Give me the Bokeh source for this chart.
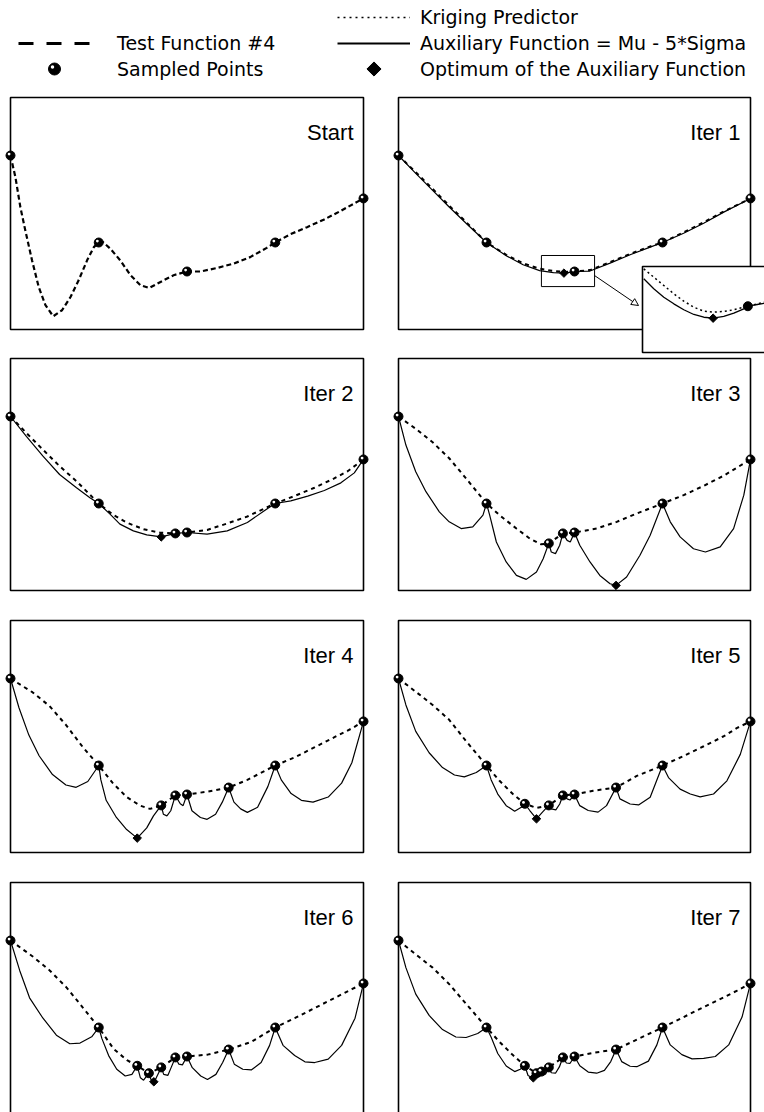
import math
from bokeh.plotting import figure
from bokeh.layouts import column, row
from bokeh.models import Range1d, Label, Legend, LegendItem, Arrow, NormalHead, ColumnDataSource
from bokeh.embed import file_html
from bokeh.resources import INLINE

# ---------------------------------------------------------------- data
panel_titles = ["Start", "Iter 1", "Iter 2", "Iter 3", "Iter 4", "Iter 5", "Iter 6", "Iter 7"]
legend_labels = ["Test Function #4", "Sampled Points", "Kriging Predictor",
                 "Auxiliary Function = Mu - 5*Sigma", "Optimum of the Auxiliary Function"]

# Start: test function #4 and initial samples
test_x = [0, 0.014, 0.028, 0.042, 0.061, 0.080, 0.099, 0.121, 0.146, 0.170, 0.193, 0.217, 0.236, 0.25,
          0.262, 0.283, 0.311, 0.340, 0.368, 0.393, 0.425, 0.462, 0.5, 0.538, 0.585, 0.632, 0.679, 0.726,
          0.75, 0.792, 0.840, 0.887, 0.934, 0.972, 1.0]
test_y = [0.75, 0.656, 0.527, 0.427, 0.298, 0.183, 0.105, 0.057, 0.083, 0.140, 0.212, 0.298, 0.355, 0.375,
          0.377, 0.348, 0.298, 0.234, 0.191, 0.179, 0.205, 0.234, 0.25, 0.250, 0.265, 0.284, 0.312, 0.352,
          0.375, 0.410, 0.441, 0.473, 0.510, 0.542, 0.565]
start_sx = [0, 0.25, 0.5, 0.75, 1.0]
start_sy = [0.75, 0.375, 0.25, 0.375, 0.565]

# Iter 1
iter1_sx = [0, 0.25, 0.5, 0.75, 1.0]
iter1_sy = [0.75, 0.375, 0.25, 0.375, 0.565]
iter1_krig_x = [0, 0.049, 0.097, 0.144, 0.192, 0.25, 0.306, 0.354, 0.401, 0.44, 0.473, 0.5, 0.544, 0.601,
                0.658, 0.715, 0.75, 0.810, 0.867, 0.924, 1.0]
iter1_krig_y = [0.75, 0.678, 0.606, 0.534, 0.463, 0.375, 0.322, 0.285, 0.262, 0.252, 0.248, 0.25, 0.256, 0.290,
                0.326, 0.358, 0.375, 0.419, 0.462, 0.509, 0.565]
iter1_aux_x = iter1_krig_x
iter1_aux_y = [0.75, 0.673, 0.600, 0.528, 0.458, 0.375, 0.318, 0.279, 0.254, 0.245, 0.243, 0.25, 0.252, 0.286,
               0.322, 0.355, 0.375, 0.415, 0.458, 0.506, 0.565]
iter1_opt = (0.47, 0.243)
# Iter 1 magnified view
inset_krig_x = [0.4013, 0.4114, 0.4216, 0.4317, 0.4418, 0.452, 0.4621, 0.4722, 0.4823, 0.4925, 0.5026, 0.5127,
                0.5235, 0.54]
inset_krig_y = [0.2973, 0.2876, 0.2779, 0.2683, 0.2597, 0.2527, 0.248, 0.2469, 0.2477, 0.2497, 0.2527, 0.2555,
                0.2585, 0.2628]
inset_aux_x = [0.4013, 0.4114, 0.4216, 0.4317, 0.4418, 0.452, 0.4621, 0.4715, 0.4823, 0.4925, 0.5026, 0.5067,
               0.5161, 0.5235, 0.54]
inset_aux_y = [0.2857, 0.2741, 0.2643, 0.2566, 0.2497, 0.2442, 0.241, 0.2399, 0.2419, 0.2457, 0.2508, 0.2538,
               0.2558, 0.2573, 0.2616]
inset_sample = (0.5067, 0.2538)
inset_opt = (0.4715, 0.2399)

# Iter 2
iter2_sx = [0, 0.25, 0.467, 0.5, 0.75, 1.0]
iter2_sy = [0.75, 0.375, 0.246, 0.25, 0.375, 0.565]
iter2_krig_x = [0, 0.045, 0.092, 0.139, 0.187, 0.25, 0.291, 0.329, 0.377, 0.424, 0.467, 0.5, 0.557, 0.614,
                0.671, 0.75, 0.804, 0.861, 0.917, 0.955, 1.0]
iter2_krig_y = [0.75, 0.679, 0.607, 0.536, 0.471, 0.375, 0.326, 0.293, 0.264, 0.249, 0.246, 0.25, 0.261, 0.289,
                0.319, 0.375, 0.407, 0.443, 0.483, 0.514, 0.565]
iter2_aux_x = [0, 0.045, 0.092, 0.139, 0.187, 0.225, 0.25, 0.282, 0.31, 0.348, 0.386, 0.427, 0.467, 0.5, 0.557,
               0.614, 0.671, 0.718, 0.75, 0.794, 0.842, 0.889, 0.936, 0.974, 1.0]
iter2_aux_y = [0.75, 0.664, 0.579, 0.5, 0.443, 0.4, 0.375, 0.329, 0.286, 0.257, 0.24, 0.231, 0.246, 0.25, 0.243,
               0.257, 0.293, 0.343, 0.375, 0.386, 0.407, 0.431, 0.464, 0.507, 0.565]
iter2_opt = (0.427, 0.231)

# Iter 3
iter3_sx = [0, 0.25, 0.427, 0.467, 0.5, 0.75, 1.0]
iter3_sy = [0.75, 0.375, 0.203, 0.246, 0.25, 0.375, 0.565]
iter3_krig_x = [0, 0.049, 0.097, 0.144, 0.192, 0.25, 0.287, 0.335, 0.373, 0.405, 0.427, 0.467, 0.5, 0.563,
                0.62, 0.677, 0.75, 0.81, 0.867, 0.924, 1.0]
iter3_krig_y = [0.75, 0.697, 0.639, 0.570, 0.483, 0.375, 0.325, 0.267, 0.224, 0.199, 0.203, 0.246, 0.25, 0.267,
                0.296, 0.332, 0.375, 0.411, 0.451, 0.495, 0.565]
iter3_aux_x = [0, 0.021, 0.049, 0.078, 0.116, 0.144, 0.178, 0.211, 0.24, 0.25,
               0.259, 0.278, 0.306, 0.335, 0.363, 0.392, 0.411, 0.427,
               0.434, 0.446, 0.458, 0.467,
               0.479, 0.488, 0.5,
               0.515, 0.544, 0.572, 0.601, 0.618, 0.648, 0.686, 0.715, 0.75,
               0.772, 0.8, 0.838, 0.872, 0.914, 0.952, 0.981, 1.0]
iter3_aux_y = [0.75, 0.627, 0.512, 0.426, 0.339, 0.296, 0.267, 0.274, 0.325, 0.375,
               0.325, 0.209, 0.123, 0.065, 0.048, 0.08, 0.137, 0.203,
               0.166, 0.159, 0.195, 0.246,
               0.216, 0.209, 0.25,
               0.195, 0.123, 0.065, 0.029, 0.022, 0.058, 0.152, 0.238, 0.375,
               0.296, 0.231, 0.18, 0.166, 0.188, 0.267, 0.411, 0.565]
iter3_opt = (0.618, 0.022)

# Iter 4
iter4_sx = [0, 0.25, 0.427, 0.467, 0.5, 0.618, 0.75, 1.0]
iter4_sy = [0.75, 0.375, 0.203, 0.246, 0.25, 0.28, 0.375, 0.565]
iter4_krig_x = [0, 0.062, 0.11, 0.157, 0.205, 0.25, 0.29, 0.329, 0.367, 0.395, 0.427, 0.467, 0.5, 0.557, 0.618,
                0.671, 0.75, 0.805, 0.862, 0.919, 0.967, 1.0]
iter4_krig_y = [0.75, 0.691, 0.632, 0.55, 0.454, 0.375, 0.299, 0.239, 0.202, 0.188, 0.203, 0.246, 0.25, 0.262,
                0.28, 0.313, 0.375, 0.41, 0.454, 0.498, 0.535, 0.565]
iter4_aux_x = [0, 0.024, 0.052, 0.081, 0.119, 0.157, 0.186, 0.219, 0.25,
               0.256, 0.271, 0.3, 0.329, 0.359, 0.386, 0.405, 0.427,
               0.433, 0.443, 0.454, 0.467,
               0.481, 0.489, 0.5,
               0.514, 0.538, 0.557, 0.581, 0.6, 0.618,
               0.633, 0.652, 0.671, 0.7, 0.729, 0.75,
               0.767, 0.795, 0.824, 0.857, 0.9, 0.938, 0.967, 1.0]
iter4_aux_y = [0.75, 0.624, 0.506, 0.417, 0.336, 0.291, 0.281, 0.306, 0.375,
               0.313, 0.225, 0.151, 0.099, 0.062, 0.106, 0.158, 0.203,
               0.165, 0.158, 0.18, 0.246,
               0.21, 0.202, 0.25,
               0.18, 0.151, 0.143, 0.165, 0.217, 0.28,
               0.217, 0.188, 0.173, 0.195, 0.284, 0.375,
               0.313, 0.254, 0.225, 0.217, 0.239, 0.299, 0.387, 0.565]
iter4_opt = (0.359, 0.062)

# Iter 5
iter5_sx = [0, 0.25, 0.359, 0.427, 0.467, 0.5, 0.618, 0.75, 1.0]
iter5_sy = [0.75, 0.375, 0.21, 0.203, 0.246, 0.25, 0.28, 0.375, 0.565]
iter5_krig_x = [0, 0.049, 0.097, 0.144, 0.192, 0.25, 0.287, 0.325, 0.359, 0.392, 0.427, 0.467, 0.5, 0.553, 0.618,
                0.677, 0.75, 0.81, 0.867, 0.924, 0.962, 1.0]
iter5_krig_y = [0.75, 0.693, 0.636, 0.572, 0.48, 0.375, 0.309, 0.252, 0.21, 0.192, 0.203, 0.246, 0.25, 0.266,
                0.28, 0.33, 0.375, 0.416, 0.458, 0.501, 0.537, 0.565]
iter5_aux_x = [0, 0.021, 0.049, 0.087, 0.125, 0.159, 0.187, 0.221, 0.25,
               0.263, 0.282, 0.306, 0.33, 0.349, 0.359,
               0.373, 0.392, 0.409, 0.427,
               0.434, 0.447, 0.458, 0.467,
               0.479, 0.487, 0.5,
               0.515, 0.539, 0.567, 0.591, 0.618,
               0.629, 0.658, 0.682, 0.715, 0.75,
               0.767, 0.8, 0.829, 0.857, 0.895, 0.933, 0.971, 1.0]
iter5_aux_y = [0.75, 0.636, 0.522, 0.43, 0.366, 0.334, 0.326, 0.345, 0.375,
               0.314, 0.252, 0.202, 0.178, 0.195, 0.21,
               0.181, 0.145, 0.174, 0.203,
               0.188, 0.184, 0.209, 0.246,
               0.231, 0.226, 0.25,
               0.202, 0.181, 0.174, 0.202, 0.28,
               0.231, 0.209, 0.205, 0.238, 0.375,
               0.323, 0.273, 0.252, 0.24, 0.252, 0.309, 0.423, 0.565]
iter5_opt = (0.392, 0.145)

# Iter 6
iter6_sx = [0, 0.25, 0.359, 0.392, 0.427, 0.467, 0.5, 0.618, 0.75, 1.0]
iter6_sy = [0.75, 0.375, 0.21, 0.178, 0.203, 0.246, 0.25, 0.28, 0.375, 0.565]
iter6_krig_x = [0, 0.064, 0.111, 0.159, 0.206, 0.25, 0.292, 0.33, 0.359, 0.392, 0.427, 0.467, 0.5, 0.558, 0.618,
                0.682, 0.75, 0.805, 0.862, 0.919, 0.967, 1.0]
iter6_krig_y = [0.75, 0.68, 0.621, 0.547, 0.459, 0.375, 0.283, 0.234, 0.21, 0.178, 0.203, 0.246, 0.25, 0.258,
                0.28, 0.313, 0.375, 0.415, 0.459, 0.503, 0.54, 0.565]
iter6_aux_x = [0, 0.026, 0.054, 0.092, 0.13, 0.168, 0.197, 0.23, 0.25,
               0.259, 0.278, 0.301, 0.325, 0.344, 0.359,
               0.368, 0.377, 0.392,
               0.398, 0.406, 0.413, 0.427,
               0.434, 0.446, 0.455, 0.467,
               0.477, 0.487, 0.5,
               0.515, 0.539, 0.558, 0.582, 0.601, 0.618,
               0.634, 0.658, 0.682, 0.71, 0.734, 0.75,
               0.772, 0.805, 0.834, 0.862, 0.9, 0.938, 0.976, 1.0]
iter6_aux_y = [0.75, 0.621, 0.503, 0.415, 0.342, 0.305, 0.308, 0.335, 0.375,
               0.327, 0.254, 0.195, 0.166, 0.173, 0.21,
               0.158, 0.148, 0.178,
               0.151, 0.141, 0.158, 0.203,
               0.173, 0.169, 0.202, 0.246,
               0.217, 0.214, 0.25,
               0.202, 0.166, 0.151, 0.173, 0.224, 0.28,
               0.217, 0.195, 0.192, 0.224, 0.298, 0.375,
               0.298, 0.254, 0.227, 0.224, 0.239, 0.298, 0.415, 0.565]
iter6_opt = (0.406, 0.141)

# Iter 7
iter7_sx = [0, 0.25, 0.359, 0.392, 0.406, 0.427, 0.467, 0.5, 0.618, 0.75, 1.0]
iter7_sy = [0.75, 0.375, 0.21, 0.178, 0.185, 0.203, 0.246, 0.25, 0.28, 0.375, 0.565]
iter7_krig_x = [0, 0.049, 0.097, 0.144, 0.192, 0.25, 0.287, 0.325, 0.359, 0.392, 0.406, 0.427, 0.467, 0.5, 0.553,
                0.618, 0.677, 0.75, 0.81, 0.867, 0.924, 0.962, 1.0]
iter7_krig_y = [0.75, 0.69, 0.633, 0.562, 0.477, 0.375, 0.313, 0.256, 0.21, 0.178, 0.185, 0.203, 0.246, 0.25,
                0.266, 0.28, 0.323, 0.375, 0.42, 0.463, 0.505, 0.534, 0.565]
iter7_aux_x = [0, 0.021, 0.049, 0.087, 0.125, 0.163, 0.192, 0.225, 0.25,
               0.263, 0.282, 0.306, 0.33, 0.346, 0.359,
               0.368, 0.38, 0.387, 0.392,
               0.397, 0.401, 0.406,
               0.413, 0.418, 0.427,
               0.434, 0.446, 0.457, 0.467,
               0.477, 0.487, 0.5,
               0.515, 0.539, 0.563, 0.585, 0.603, 0.618,
               0.634, 0.658, 0.677, 0.71, 0.734, 0.75,
               0.772, 0.805, 0.834, 0.867, 0.9, 0.938, 0.976, 1.0]
iter7_aux_y = [0.75, 0.633, 0.519, 0.427, 0.366, 0.334, 0.332, 0.349, 0.375,
               0.334, 0.263, 0.209, 0.185, 0.195, 0.21,
               0.168, 0.158, 0.165, 0.178,
               0.165, 0.163, 0.185,
               0.172, 0.175, 0.203,
               0.18, 0.178, 0.205, 0.246,
               0.222, 0.22, 0.25,
               0.21, 0.183, 0.178, 0.19, 0.228, 0.28,
               0.228, 0.208, 0.206, 0.23, 0.3, 0.375,
               0.3, 0.258, 0.24, 0.242, 0.25, 0.3, 0.42, 0.565]
iter7_opt = (0.383, 0.158)

panels = [
    dict(sx=start_sx, sy=start_sy, test=(test_x, test_y)),
    dict(sx=iter1_sx, sy=iter1_sy, krig=(iter1_krig_x, iter1_krig_y), aux=(iter1_aux_x, iter1_aux_y), opt=iter1_opt),
    dict(sx=iter2_sx, sy=iter2_sy, krig=(iter2_krig_x, iter2_krig_y), aux=(iter2_aux_x, iter2_aux_y), opt=iter2_opt),
    dict(sx=iter3_sx, sy=iter3_sy, krig=(iter3_krig_x, iter3_krig_y), aux=(iter3_aux_x, iter3_aux_y), opt=iter3_opt),
    dict(sx=iter4_sx, sy=iter4_sy, krig=(iter4_krig_x, iter4_krig_y), aux=(iter4_aux_x, iter4_aux_y), opt=iter4_opt),
    dict(sx=iter5_sx, sy=iter5_sy, krig=(iter5_krig_x, iter5_krig_y), aux=(iter5_aux_x, iter5_aux_y), opt=iter5_opt),
    dict(sx=iter6_sx, sy=iter6_sy, krig=(iter6_krig_x, iter6_krig_y), aux=(iter6_aux_x, iter6_aux_y), opt=iter6_opt),
    dict(sx=iter7_sx, sy=iter7_sy, krig=(iter7_krig_x, iter7_krig_y), aux=(iter7_aux_x, iter7_aux_y), opt=iter7_opt),
]

# ---------------------------------------------------------------- layout (page pixels)
COLS = [(0, 382, 10, 353), (382, 382, 398, 352)]          # fig_x, fig_w, box_x, box_w
ROWS = [(90, 265, 97, 232), (355, 262, 358, 232), (617, 262, 620, 232), (879, 233, 882, 232)]  # fig_y, fig_h, box_y, box_h
LEGEND_H = 90
ZOOM_WINDOW = (0.406, 0.557, 0.185, 0.319)          # left, right, bottom, top (data) in Iter 1
INSET_SRC = (0.40, 0.56, 0.20, 0.30)                 # data window shown magnified
INSET_PX = (642, 800, 352, 266)                      # left, right, bottom, top page px
ARROW_PX = (594, 275, 638, 305)

TITLE_FONT = "Liberation Sans"
LEGEND_FONT = "DejaVu Sans"
DIAMOND = dict(marker="square", angle=math.pi / 4, fill_color="black", line_color="black")

KRIG = dict(line_color="black", line_width=2, line_dash="4 4")
AUX = dict(line_color="black", line_width=1.2)
TEST = dict(line_color="black", line_width=2.2, line_dash="5 3")


def make_panel(i):
    ci, ri = i % 2, i // 2
    fx, fw, bx, bw = COLS[ci]
    fy, fh, by, bh = ROWS[ri]
    px2x = lambda px: (px - bx) / bw
    py2y = lambda py: (by + bh - py) / bh
    p = figure(width=fw, height=fh,
               x_range=Range1d(px2x(fx), px2x(fx + fw)),
               y_range=Range1d(py2y(fy + fh), py2y(fy)),
               x_axis_type=None, y_axis_type=None, toolbar_location=None,
               output_backend="svg", min_border=0, outline_line_color=None)
    p.grid.visible = False
    d = panels[i]
    p.quad(left=0, right=1, bottom=0, top=1, fill_color=None, line_color="black", line_width=1.6)
    if "test" in d:
        p.line(*d["test"], **TEST)
    if "krig" in d:
        p.line(*d["krig"], **KRIG)
        p.line(*d["aux"], **AUX)
    # sampled points (black sphere with a highlight)
    p.scatter(d["sx"], d["sy"], size=9, fill_color="black", line_color="black")
    dx, dy = -1.4 / bw, 1.4 / bh
    p.scatter([x + dx for x in d["sx"]], [y + dy for y in d["sy"]], size=2.8,
              fill_color="white", line_color=None)
    if "opt" in d:
        p.scatter([d["opt"][0]], [d["opt"][1]], size=6, **DIAMOND)
    if i == 1:
        zl, zr, zb, zt = ZOOM_WINDOW
        p.quad(left=zl, right=zr, bottom=zb, top=zt, fill_color=None, line_color="black", line_width=1)
        ax0, ay0, ax1, ay1 = ARROW_PX
        p.add_layout(Arrow(x_start=px2x(ax0), y_start=py2y(ay0), x_end=px2x(ax1), y_end=py2y(ay1),
                           line_width=1, line_color="black",
                           end=NormalHead(size=7, fill_color="white", line_color="black", line_width=1)))
        sl, sr, sb, st = INSET_SRC
        il, ir, ib, it = INSET_PX
        sub = p.subplot(x_source=Range1d(sl, sr), y_source=Range1d(sb, st),
                        x_target=Range1d(px2x(il), px2x(ir)), y_target=Range1d(py2y(ib), py2y(it)))
        sub.quad(left=sl, right=sr, bottom=sb, top=st, fill_color="white", line_color="black", line_width=1.6)
        sub.line(inset_krig_x, inset_krig_y, line_color="black", line_width=1.5, line_dash="2 3")
        sub.line(inset_aux_x, inset_aux_y, line_color="black", line_width=1.3)
        sub.scatter([inset_sample[0]], [inset_sample[1]], size=9, fill_color="black", line_color="black")
        sub.scatter([inset_opt[0]], [inset_opt[1]], size=6, **DIAMOND)
    p.add_layout(Label(x=1, y=1, x_offset=-10, y_offset=-35, text=panel_titles[i],
                       text_align="right", text_baseline="alphabetic",
                       text_font=TITLE_FONT, text_font_size="22px", text_color="black"))
    return p


# ---------------------------------------------------------------- legend
# legend figure uses page-pixel coordinates (y measured upward from its bottom edge)
lg = figure(width=764, height=LEGEND_H, x_range=Range1d(0, 764), y_range=Range1d(0, LEGEND_H),
            x_axis_type=None, y_axis_type=None, toolbar_location=None, output_backend="svg",
            min_border=0, outline_line_color=None)
lg.grid.visible = False
# legend proxies: points lie outside the visible range so only the legend glyphs show
hidden = lambda: ColumnDataSource(dict(x=[-50, -40], y=[-50, -50]))
r_test = lg.line("x", "y", source=hidden(), line_color="black", line_width=3, line_dash="15 13")
r_krig = lg.line("x", "y", source=hidden(), line_color="black", line_width=1.5, line_dash="2 4")
r_aux = lg.line("x", "y", source=hidden(), line_color="black", line_width=2.2)
r_none = lg.scatter("x", "y", source=hidden(), size=1, fill_alpha=0, line_alpha=0)

# one legend per entry: (renderer, glyph start x, row centre y (page px), glyph width, standoff)
entries = [(r_test, 18, 43, 72, 27), (r_none, 18, 68.5, 72, 27),
           (r_krig, 337, 17.5, 73, 10), (r_aux, 337, 43, 73, 10), (r_none, 337, 68.5, 73, 10)]
GH = 22
for (rend, gx, cy, gw, so), lab in zip(entries, legend_labels):
    lg.add_layout(Legend(items=[LegendItem(label=lab, renderers=[rend])],
                         location=(gx, round(LEGEND_H - cy - GH / 2)),
                         padding=0, margin=0, border_line_color=None, background_fill_alpha=0,
                         label_text_font=LEGEND_FONT, label_text_font_size="19px", label_text_color="black",
                         glyph_width=gw, glyph_height=GH, label_height=GH, label_standoff=so))
# legend keys for the point markers, centred in their glyph slots
samp_key = (18 + 72 / 2, LEGEND_H - 68.5)
opt_key = (337 + 73 / 2, LEGEND_H - 68.5)
lg.scatter([samp_key[0]], [samp_key[1]], size=12, fill_color="black", line_color="black")
lg.scatter([samp_key[0] - 2], [samp_key[1] + 2], size=3.5, fill_color="white", line_color=None)
lg.scatter([opt_key[0]], [opt_key[1]], size=10, **DIAMOND)

figs = [make_panel(i) for i in range(8)]
layout = column(lg, row(figs[0], figs[1]), row(figs[2], figs[3]), row(figs[4], figs[5]), row(figs[6], figs[7]))

open("out.html", "w").write(file_html(layout, INLINE))
